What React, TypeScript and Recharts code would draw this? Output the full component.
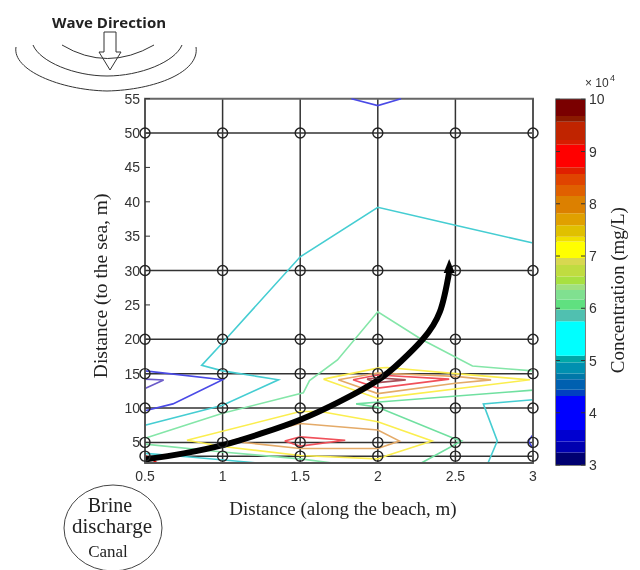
import { BarChart, Bar, ComposedChart, Line, Scatter, XAxis, YAxis, CartesianGrid, ReferenceArea, Label } from "recharts";

const serif = "'Liberation Serif', serif";
const sans = "'Liberation Sans', sans-serif";

const xTicks = [0.5, 1, 1.5, 2, 2.5, 3];
const yTicks = [5, 10, 15, 20, 25, 30, 35, 40, 45, 50, 55];
const gridY = [3, 5, 10, 15, 20, 30, 50];
const gridNodes = gridY.flatMap((y) => xTicks.map((x) => ({ x, y })));

// contour lines as [x, y]
const topBlue = [[1.83, 55], [2, 54], [2.15, 55]];
const leftBlue = [[0.5, 15.4], [1, 14.1], [0.68, 10.6], [0.5, 9.6]];
const leftPurple = [[0.5, 12.85], [0.62, 14.07], [0.5, 14.2]];
const mainCyan = [[0.5, 7.5], [1, 10.4], [1.36, 14.1], [1, 15.4], [0.865, 16.2], [1, 19.5], [1.5, 32], [2, 39.2], [2.5, 36.6], [3, 34]];
const rightCyan = [[3, 11.2], [2.68, 10.6], [2.77, 5.2], [2.71, 2]];
const cornerCyan = [[0.5, 3.4], [0.77, 2.9], [1.23, 2]];
const rightBlue = [[3, 6.1], [2.97, 5.2], [3, 4.1]];
const mainGreen = [[0.5, 5.6], [1, 9.25], [1.52, 12.2], [1.56, 14], [1.74, 17], [2, 24], [2.28, 20], [2.61, 16.1], [3, 15.4]];
const midGreen = [[3, 12.6], [2.03, 10.9], [1.86, 10.6], [2, 10.1], [2.5, 5.5], [2.54, 5.2], [2.28, 2]];
const lowGreen = [[0.5, 4.75], [1, 3.6], [1.5, 2.6], [1.71, 2]];
const lowYellow = [[0.77, 5.3], [1.5, 9.5], [1.63, 9.5], [2, 8], [2.35, 5.2], [2.06, 3.1], [2, 2.6], [1.5, 3.1], [1, 4.4], [0.77, 5.3]];
const lowOrange = [[1.05, 5.2], [1.5, 7.75], [2, 6.8], [2.14, 5.2], [2, 4.1], [1.5, 4.1], [1.05, 5.2]];
const lowRed = [[1.4, 5.2], [1.5, 5.8], [1.79, 5.3], [1.5, 4.45], [1.4, 5.2]];
const highYellow = [[1.65, 14.2], [2, 15.8], [2.06, 15.9], [2.5, 15], [2.98, 14.1], [2, 11.4], [1.65, 14.2]];
const highOrange = [[1.745, 14.1], [2, 15.1], [2.5, 14.6], [2.73, 14.1], [2.5, 13.6], [2, 12.1], [1.745, 14.1]];
const highRed = [[1.84, 14.1], [2, 14.8], [2.46, 14.2], [2, 12.9], [1.84, 14.1]];
const highCore = [[1.93, 14.2], [2, 14.4], [2.18, 14.1], [2, 13.7], [1.93, 14.2]];
const cornerRed = [[0.5, 3.1], [0.58, 2]];

const contours: [number[][], string][] = [
  [topBlue, "#4a4ae6"],
  [leftBlue, "#4a4ae6"],
  [leftPurple, "#6a5ac8"],
  [rightBlue, "#3a3ae0"],
  [mainCyan, "#45cdd2"],
  [rightCyan, "#45cdd2"],
  [cornerCyan, "#45cdd2"],
  [mainGreen, "#84e6a8"],
  [midGreen, "#70e0a0"],
  [lowGreen, "#84e6a8"],
  [lowYellow, "#fbee4e"],
  [highYellow, "#fbee4e"],
  [lowOrange, "#e4aa68"],
  [highOrange, "#e4aa68"],
  [lowRed, "#f0505a"],
  [highRed, "#f0505a"],
  [highCore, "#a85058"],
  [cornerRed, "#e01010"],
];

// the hand drawn flow arrow
const flowX = [0.5, 0.75, 1, 1.25, 1.5, 1.75, 2, 2.15, 2.29, 2.4, 2.46];
const flowY = [2.5, 3.4, 4.6, 6.3, 8.3, 10.9, 14.05, 16.8, 20, 24, 29.8];
const flowPath = flowX.map((x, i) => ({ x, y: flowY[i] }));

const barTicks = [3, 4, 5, 6, 7, 8, 9, 10];
const bandEdges = [3, 3.24, 3.45, 3.67, 4.32, 4.44, 4.64, 4.75, 4.96, 5.09, 5.75, 5.97, 6.17, 6.35, 6.46, 6.61, 6.83, 6.96, 7.28, 7.37, 7.59, 7.82, 8.15, 8.36, 8.57, 8.7, 9.13, 9.22, 9.57, 9.68, 10];
const bandColors = [
  "#000070", "#0000b0", "#0000d0", "#0000ff", "#0040c0", "#0060b0", "#0078a8", "#0090b0", "#00a8a8", "#00ffff",
  "#50c0b0", "#60e080", "#80e090", "#a0e080", "#a8e040", "#c0dc40", "#d8d850", "#ffff00", "#f0e000", "#e0c000",
  "#e0a000", "#dc8000", "#e06000", "#e04400", "#e02000", "#ff0000", "#d81c00", "#c02400", "#8b1a00", "#7a0000",
];
const bandRow: Record<string, number> = { base: bandEdges[0] };
bandColors.forEach((_, i) => {
  bandRow[`b${i}`] = bandEdges[i + 1] - bandEdges[i];
});

const toPoints = (pts: number[][]) => pts.map(([x, y]) => ({ x, y }));

function LeftTick({ x, y, payload }: any) {
  return (
    <g>
      <line x1={x} x2={x + 5} y1={y} y2={y} stroke="#333" />
      <text x={x - 5} y={y + 5} textAnchor="end" fontSize={14} fontFamily={sans} fill="#333">
        {payload.value}
      </text>
    </g>
  );
}

function RightTick({ x, y }: any) {
  return <line x1={x} x2={x - 5} y1={y} y2={y} stroke="#333" />;
}

function BarTick({ x, y, payload }: any) {
  return (
    <g>
      <line x1={x} x2={x - 4} y1={y} y2={y} stroke="#333" />
      <line x1={x - 29} x2={x - 25} y1={y} y2={y} stroke="#333" />
      <text x={x + 4} y={y + 5} fontSize={14} fontFamily={sans} fill="#333">
        {payload.value}
      </text>
    </g>
  );
}

function Ring({ cx, cy }: any) {
  return <circle cx={cx} cy={cy} r={5} fill="none" stroke="#222" strokeWidth={1.4} />;
}

function ArrowHead({ cx, cy, index }: any) {
  if (index !== flowPath.length - 1) return <g key={index} />;
  return <polygon key={index} points={`${cx - 5.5},${cy + 1} ${cx},${cy - 13} ${cx + 5.5},${cy + 1}`} fill="#000" />;
}

function Sketches() {
  return (
    <svg width={640} height={570} style={{ position: "absolute", left: 0, top: 0 }}>
      <text x={109} y={28} textAnchor="middle" fontSize={15} fontWeight="bold" fontFamily="'Open Sans', sans-serif" fill="#222">
        Wave Direction
      </text>
      <g fill="none" stroke="#333" strokeWidth={1}>
        <path d="M16 47 C12 70 60 90 107 91 C155 90 200 72 196 47" />
        <path d="M33 45 C40 62 75 76 107 76 C140 76 175 62 182 45" />
        <path d="M62 45 Q107 72 154 45" />
        <path d="M104 32 H116 V52 H121 L110 70 L99 52 H104 Z" />
      </g>
      <ellipse cx={113} cy={528} rx={49} ry={43} fill="none" stroke="#444" />
      <g textAnchor="middle" fontFamily={serif} fill="#222">
        <text x={110} y={512} fontSize={20}>Brine</text>
        <text x={112} y={533} fontSize={21}>discharge</text>
        <text x={108} y={557} fontSize={17}>Canal</text>
      </g>
      <text x={585} y={87} fontSize={12} fontFamily={sans} fill="#333">× 10</text>
      <text x={610} y={81} fontSize={9} fontFamily={sans} fill="#333">4</text>
    </svg>
  );
}

export default function App() {
  return (
    <div style={{ position: "absolute", left: 0, top: 0, width: 640, height: 570, overflow: "hidden", background: "#fff", filter: "blur(0.4px)" }}>
      <ComposedChart width={640} height={570} margin={{ top: 98.7, right: 97, bottom: 17, left: 55 }}>
        <XAxis
          type="number"
          dataKey="x"
          domain={[0.5, 3]}
          ticks={xTicks}
          interval={0}
          height={90}
          tickLine={false}
          tickSize={0}
          tickMargin={8}
          stroke="#555"
          strokeWidth={2}
          tick={{ fill: "#333", fontSize: 14, fontFamily: sans }}
        >
          <Label value="Distance (along the beach, m)" position="center" dx={4} fontSize={19} fontFamily={serif} fill="#222" />
        </XAxis>
        <YAxis
          yAxisId="left"
          type="number"
          domain={[2, 55]}
          ticks={yTicks}
          interval={0}
          width={90}
          tickLine={false}
          tickSize={0}
          tickMargin={0}
          stroke="#555"
          strokeWidth={2}
          tick={<LeftTick />}
        >
          <Label value="Distance (to the sea, m)" position="center" angle={-90} dy={5} fontSize={19.5} fontFamily={serif} fill="#222" />
        </YAxis>
        <YAxis
          yAxisId="right"
          orientation="right"
          type="number"
          domain={[2, 55]}
          ticks={yTicks}
          interval={0}
          width={10}
          tickLine={false}
          tickSize={0}
          tickMargin={0}
          stroke="#555"
          strokeWidth={2}
          tick={<RightTick />}
        />
        <ReferenceArea yAxisId="left" y1={55} y2={2} fill="none" stroke="#666" strokeWidth={2} />
        {contours.map(([pts, color], i) => (
          <Line
            key={i}
            yAxisId="left"
            data={toPoints(pts)}
            dataKey="y"
            type="linear"
            stroke={color}
            strokeWidth={1.6}
            dot={false}
            activeDot={false}
            isAnimationActive={false}
          />
        ))}
        <CartesianGrid yAxisId="left" horizontalValues={gridY} verticalValues={xTicks} stroke="#333" strokeWidth={1.5} />
        <Scatter yAxisId="left" data={gridNodes} dataKey="y" shape={<Ring />} isAnimationActive={false} />
        <Line
          yAxisId="left"
          data={flowPath}
          dataKey="y"
          type="natural"
          stroke="#000"
          strokeWidth={6}
          dot={<ArrowHead />}
          activeDot={false}
          isAnimationActive={false}
        />
      </ComposedChart>
      <div style={{ position: "absolute", left: 540, top: 0 }}>
        <BarChart
          width={110}
          height={570}
          data={[bandRow]}
          barCategoryGap={0}
          margin={{ top: 99.3, right: 1, bottom: 105, left: 16 }}
        >
          <XAxis hide />
          <YAxis
            orientation="right"
            type="number"
            domain={[3, 10]}
            ticks={barTicks}
            interval={0}
            allowDataOverflow
            width={64}
            tickLine={false}
            axisLine={false}
            tickSize={0}
            tickMargin={0}
            tick={<BarTick />}
          >
            <Label value="Concentration (mg/L)" position="center" angle={-90} dy={8} fontSize={19} fontFamily={serif} fill="#222" />
          </YAxis>
          <Bar dataKey="base" stackId="c" fill="none" isAnimationActive={false} />
          {bandColors.map((c, i) => (
            <Bar key={c} dataKey={`b${i}`} stackId="c" fill={c} isAnimationActive={false} />
          ))}
          <ReferenceArea y1={3} y2={10} fill="none" stroke="#555" strokeWidth={1.5} />
        </BarChart>
      </div>
      <Sketches />
    </div>
  );
}
